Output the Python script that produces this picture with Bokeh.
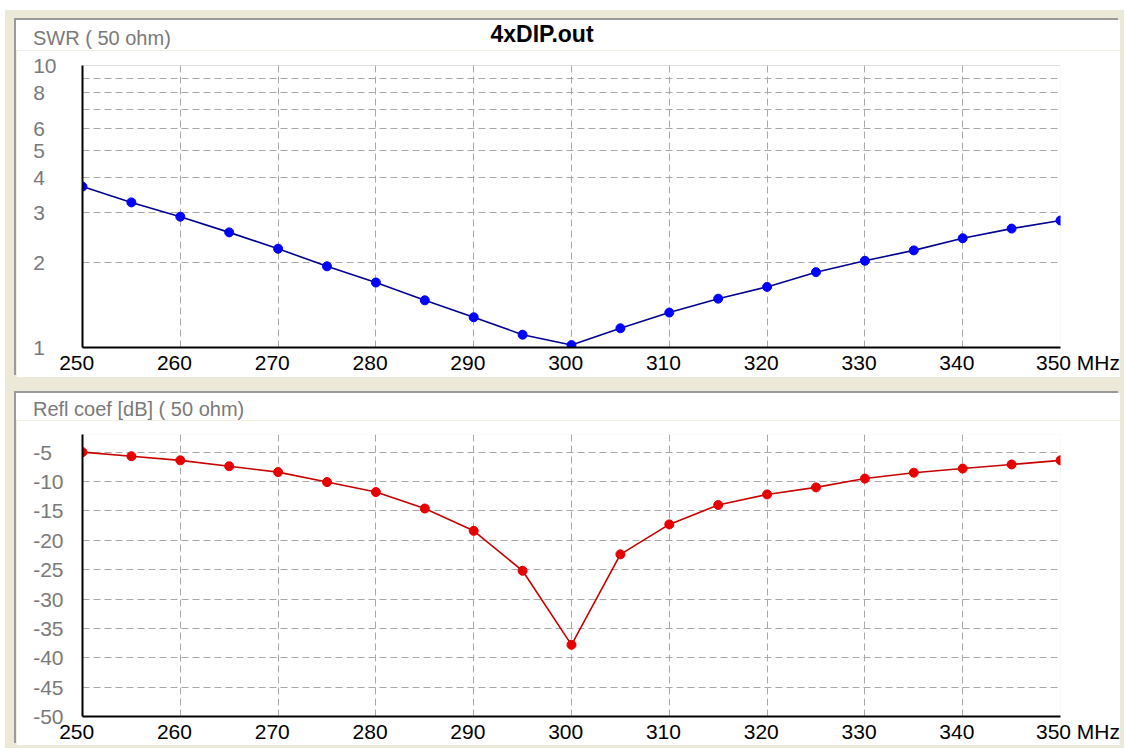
from bokeh.plotting import figure
from bokeh.models import Range1d, FixedTicker, Div, Span
from bokeh.layouts import column
from bokeh.embed import file_html
from bokeh.resources import INLINE

# ---------------- data ----------------
freq = [250, 255, 260, 265, 270, 275, 280, 285, 290, 295, 300,
        305, 310, 315, 320, 325, 330, 335, 340, 345, 350]
swr = [3.72, 3.27, 2.91, 2.56, 2.24, 1.94, 1.70, 1.47, 1.28, 1.11, 1.02,
       1.17, 1.33, 1.49, 1.64, 1.85, 2.03, 2.21, 2.44, 2.64, 2.82]
refl_db = [-5.0, -5.7, -6.4, -7.4, -8.4, -10.1, -11.8, -14.6, -18.4, -25.2, -37.8,
           -22.4, -17.3, -14.0, -12.2, -11.0, -9.5, -8.5, -7.8, -7.1, -6.4]

x_ticks = [250, 260, 270, 280, 290, 300, 310, 320, 330, 340, 350]
swr_tick_labels = [1, 2, 3, 4, 5, 6, 8, 10]
swr_grid = [2, 3, 4, 5, 6, 7, 8, 9]
db_tick_labels = [-5, -10, -15, -20, -25, -30, -35, -40, -45, -50]
db_grid = [-5, -10, -15, -20, -25, -30, -35, -40, -45]

title_text = "4xDIP.out"
swr_name = "SWR ( 50 ohm)"
refl_name = "Refl coef [dB] ( 50 ohm)"
unit = "MHz"

FONT = "Liberation Sans"
GRAY_TXT = "#7a7a7a"
GRID = "#a8a8a8"
NB = "\u00a0"
PANEL_W = 1104


def pad_left_align(labels):
    """Pad shorter labels with no-break spaces so right-aligned axis labels line up on the left."""
    strs = [str(v) for v in labels]
    digits = [sum(c.isdigit() for c in s) for s in strs]
    mx = max(digits)
    return {v: s + NB * (2 * (mx - d)) for v, s, d in zip(labels, strs, digits)}


def make_fig(height, y_range, y_axis_type, top, bottom, y_grid, y_labels, standoff,
             line_color, marker_color, yvals):
    p = figure(width=PANEL_W, height=height, x_range=Range1d(250, 350), y_range=y_range,
               y_axis_type=y_axis_type, output_backend="svg", toolbar_location=None,
               min_border_left=66, min_border_right=60, min_border_top=top,
               min_border_bottom=bottom, background_fill_color="white",
               border_fill_color="white", outline_line_color=None)

    xa = p.xaxis[0]
    xa.ticker = FixedTicker(ticks=x_ticks)
    overrides = {t: f"{t}{NB * 2}" for t in x_ticks[:-1]}
    overrides[x_ticks[-1]] = NB * 6 + f"{x_ticks[-1]}{NB}{unit}"
    xa.major_label_overrides = overrides
    xa.axis_line_color = "black"
    xa.axis_line_width = 2
    xa.major_tick_in = 0
    xa.major_tick_out = 0
    xa.minor_tick_line_color = None
    xa.major_label_text_font = FONT
    xa.major_label_text_font_size = "21px"
    xa.major_label_text_color = "black"
    xa.major_label_standoff = 3

    ya = p.yaxis[0]
    ya.ticker = FixedTicker(ticks=y_labels)
    ya.major_label_overrides = pad_left_align(y_labels)
    ya.axis_line_color = "black"
    ya.axis_line_width = 2
    ya.major_tick_in = 0
    ya.major_tick_out = 0
    ya.minor_tick_line_color = None
    ya.major_label_text_font = FONT
    ya.major_label_text_font_size = "21px"
    ya.major_label_text_color = GRAY_TXT
    ya.major_label_standoff = standoff

    p.xgrid[0].ticker = FixedTicker(ticks=x_ticks[1:])
    p.ygrid[0].ticker = FixedTicker(ticks=y_grid)
    for g in (p.xgrid[0], p.ygrid[0]):
        g.grid_line_color = GRID
        g.grid_line_dash = "7 4"
        g.grid_line_width = 1

    p.line(freq, yvals, line_color=line_color, line_width=1.6)
    p.scatter(freq, yvals, size=9, fill_color=marker_color, line_color=marker_color)
    return p


def header(height, spans):
    html = (f'<div style="position:relative;width:{PANEL_W}px;height:{height}px;'
            f'background:white;font-family:\'{FONT}\';overflow:visible;">' + "".join(spans) + "</div>")
    return Div(text=html, width=PANEL_W, height=height, margin=0,
               styles={"background-color": "white"})


span_swr = (f'<span style="position:absolute;left:17px;top:8px;font-size:20px;line-height:20px;'
            f'color:{GRAY_TXT};white-space:nowrap;">{swr_name}</span>')
span_title = (f'<span style="position:absolute;left:526px;top:3px;transform:translateX(-50%);'
              f'font-size:23px;line-height:23px;font-weight:bold;color:black;white-space:nowrap;">'
              f'{title_text}</span>')
span_refl = (f'<span style="position:absolute;left:17px;top:6px;font-size:20px;line-height:20px;'
             f'color:{GRAY_TXT};white-space:nowrap;">{refl_name}</span>')

head1 = header(30, [span_swr, span_title])
head2 = header(27, [span_refl])

p1 = make_fig(327, Range1d(1, 10), "log", 15, 30, swr_grid, swr_tick_labels, 26,
              "#000090", "#0000ff", swr)
p1.add_layout(Span(location=swr_tick_labels[-1], dimension="width",
                   line_color="#c0c0c0", line_width=1))

p2 = make_fig(325, Range1d(-50, -2), "linear", 14, 29, db_grid, db_tick_labels, 19,
              "#c80000", "#e60000", refl_db)

shadow = {"box-shadow": "-2px -2px 0 #9a9a9a"}
panel1 = column(head1, p1, spacing=0, styles=shadow)
panel2 = column(head2, p2, spacing=0, styles=shadow)

layout = column(panel1, panel2, spacing=16, margin=(10, 0, 0, 5),
                styles={"background-color": "#ece9d8", "padding": "10px 4px 3px 11px"})

open("out.html", "w").write(file_html(layout, INLINE))
